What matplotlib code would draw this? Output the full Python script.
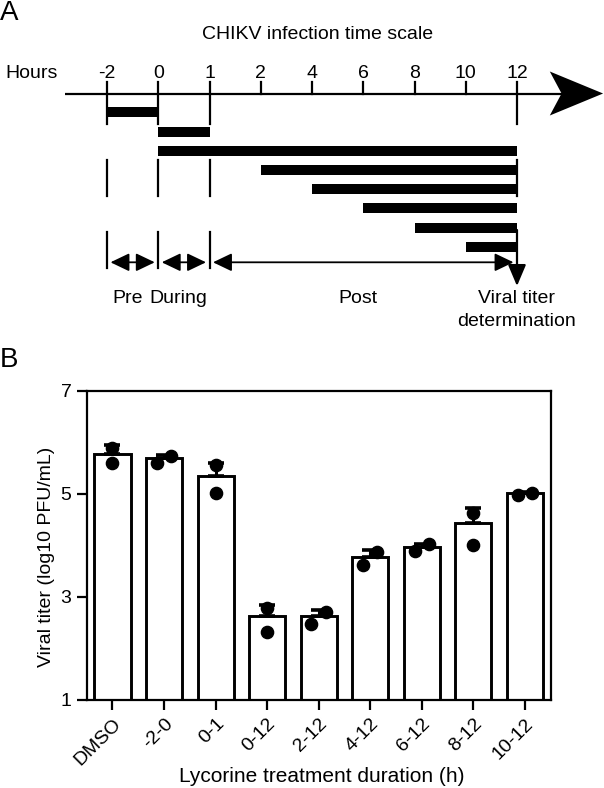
import numpy as np
import matplotlib.pyplot as plt
from matplotlib.patches import Polygon
from matplotlib.transforms import ScaledTranslation

plt.rcParams['font.family'] = ['Liberation Sans', 'DejaVu Sans']

# panel A: treatment windows on the infection time scale (hours)
hours = [-2, 0, 1, 2, 4, 6, 8, 10, 12]
starts = [-2, 0, 0, 2, 4, 6, 8, 10]
ends = [0, 1, 12, 12, 12, 12, 12, 12]
phases = ['Pre', 'During', 'Post']
phase_start = [-2, 0, 1]
phase_end = [0, 1, 12]

# panel B: viral titer, bar = mean, whisker = upper error, dots = replicates
labels = ['DMSO', '-2-0', '0-1', '0-12', '2-12', '4-12', '6-12', '8-12', '10-12']
means = [5.78, 5.69, 5.35, 2.62, 2.62, 3.77, 3.96, 4.44, 5.01]
errs = [0.16, 0.06, 0.25, 0.22, 0.13, 0.14, 0.07, 0.28, 0.02]
rep1 = [5.88, 5.60, 5.55, 2.78, 2.47, 3.61, 3.89, 4.63, 4.98]
rep2 = [5.60, 5.73, 5.02, 2.31, 2.71, 3.87, 4.03, 4.01, 5.02]

W, H = 604, 788
fig = plt.figure(figsize=(W/100, H/100), dpi=100)


def pos(h):
    # ticks are evenly spaced on the drawing, not proportional to time
    return np.interp(h, hours, np.arange(len(hours)))


# ---- panel A ----
ax = fig.add_axes([0, 0, 1, 1])
ax.set_xlim(-107/51.25, (W-107)/51.25)
ax.set_ylim(H, 0)
ax.axis('off')

fs = 14
axis_y = 93.5
ax.plot([-0.82, 8.9], [axis_y, axis_y], color='k', lw=1.6, solid_capstyle='butt')
tip = pos(12)
ax.add_patch(Polygon([(tip+0.64, axis_y-22), (tip+1.68, axis_y),
                      (tip+0.64, axis_y+22), (tip+0.87, axis_y)],
                     closed=True, color='k', lw=0))

major = [-2, 0, 1, 12]
for h in hours:
    x = pos(h)
    ax.text(x, 77.5, str(h), ha='center', va='baseline', fontsize=fs)
    if h in major:
        ax.plot([x, x], [axis_y-11.5, 124], color='k', lw=1.6)
        ax.plot([x, x], [160, 196], color='k', lw=1.6)
        if h != 12:
            ax.plot([x, x], [231.7, 268.3], color='k', lw=1.6)
    else:
        ax.plot([x, x], [axis_y-11.5, axis_y], color='k', lw=1.6)
ax.text(-1.99, 77.5, 'Hours', ha='left', va='baseline', fontsize=fs)
ax.text(4.1, 39.3, 'CHIKV infection time scale', ha='center', va='baseline', fontsize=fs)

rows = 112.3 + 19.2*np.arange(len(starts))
ax.barh(rows, pos(np.array(ends)) - pos(np.array(starts)), left=pos(np.array(starts)),
        height=10, color='k', lw=0)

for name, s, e in zip(phases, phase_start, phase_end):
    ax.annotate('', xy=(pos(e), 262.3), xytext=(pos(s), 262.3),
                arrowprops=dict(arrowstyle='<|-|>,head_length=1.15,head_width=0.55',
                                mutation_scale=10, lw=1.3, color='k',
                                shrinkA=2.5, shrinkB=2.5))
    ax.text((pos(s)+pos(e))/2 - 0.1, 303.3, name, ha='center', va='baseline', fontsize=fs)

ax.annotate('', xy=(tip, 286), xytext=(tip, 230),
            arrowprops=dict(arrowstyle='-|>,head_length=1.3,head_width=0.55',
                            mutation_scale=10, lw=1.6, color='k',
                            shrinkA=0, shrinkB=0))
ax.text(tip, 303.3, 'Viral titer', ha='center', va='baseline', fontsize=fs)
ax.text(tip, 325.5, 'determination', ha='center', va='baseline', fontsize=fs)

# ---- panel B ----
axb = fig.add_axes([86.7/W, 1-700/H, (550.7-86.7)/W, (700-390.7)/H])
x = np.arange(len(labels))
axb.bar(x, means, width=0.7, color='white', edgecolor='black', linewidth=2.1, zorder=2)
axb.errorbar(x, means, yerr=[np.zeros(len(x)), errs], fmt='none', ecolor='black',
             elinewidth=2.2, capsize=6, capthick=2.6, zorder=3)

xs, ys = [], []
for i, (a, b) in enumerate(zip(rep1, rep2)):
    lo, hi = min(a, b), max(a, b)
    d = 0.14 if hi - lo < 0.27 else 0.0
    xs += [i - d, i + d]
    ys += [lo, hi]
axb.plot(xs, ys, 'o', color='black', ms=8.8, zorder=4)

axb.set_xlim(-0.5, 8.5)
axb.set_ylim(1, 7)
axb.set_yticks([1, 3, 5, 7])
axb.set_xticks(x)
axb.set_xticklabels(labels, rotation=45, ha='right', va='top', rotation_mode='anchor')
off = ScaledTranslation(6/72, -3/72, fig.dpi_scale_trans)
for t in axb.get_xticklabels():
    t.set_transform(t.get_transform() + off)
for sp in axb.spines.values():
    sp.set_linewidth(1.6)
axb.tick_params(length=7, width=1.6, labelsize=14, pad=4)

fig.text(47/W, 1-556.5/H, 'Viral titer (log10 PFU/mL)', rotation=90,
         ha='center', va='center', fontsize=fs)
fig.text(321.7/W, 1-782/H, 'Lycorine treatment duration (h)',
         ha='center', va='baseline', fontsize=15)

fig.text(-0.5/W, 1, 'A', fontsize=20, va='top', ha='left')
fig.text(-0.5/W, 1-347/H, 'B', fontsize=20, va='top', ha='left')

fig.savefig('out.png', dpi=100)
